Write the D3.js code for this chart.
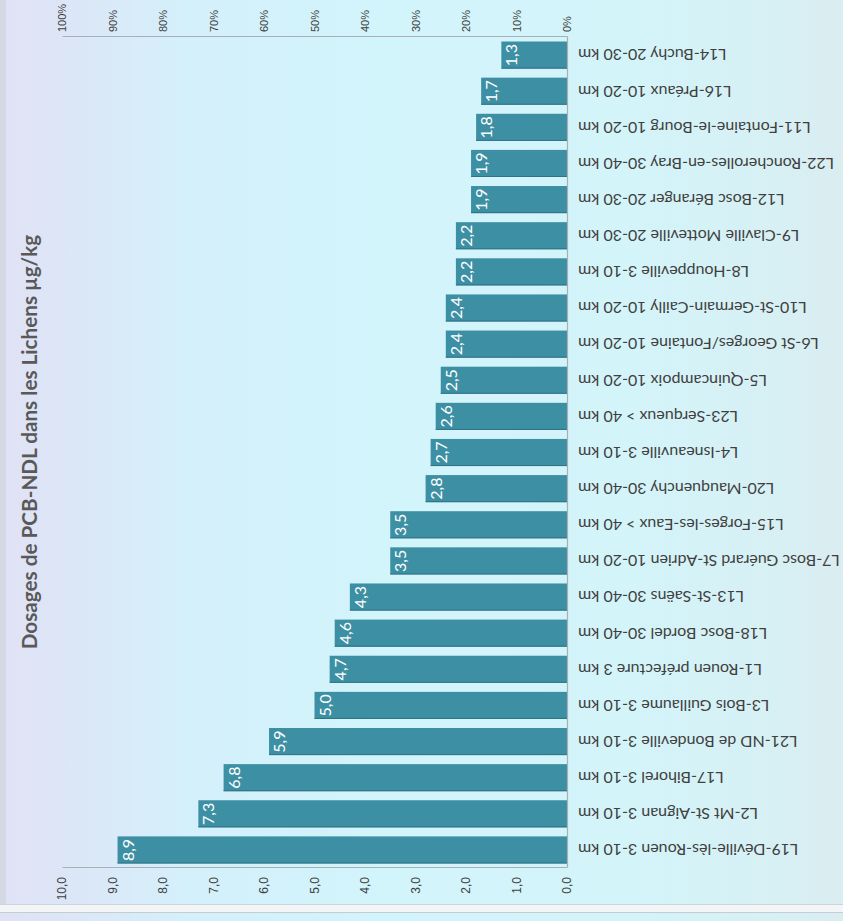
<!DOCTYPE html>
<html>
<head>
<meta charset="utf-8">
<script src="https://cdn.jsdelivr.net/npm/d3@7"></script>
<style>
  html, body { margin: 0; padding: 0; background: #ffffff; }
  svg { display: block; }
</style>
</head>
<body>
<svg id="chart" width="843" height="921"></svg>
<script>
// Sites sampled, ordered by decreasing concentration
const categories = [
  "L19-Déville-lès-Rouen 3-10 km",
  "L2-Mt St-Aignan 3-10 km",
  "L17-Bihorel 3-10 km",
  "L21-ND de Bondeville 3-10 km",
  "L3-Bois Guillaume 3-10 km",
  "L1-Rouen préfecture 3 km",
  "L18-Bosc Bordel 30-40 km",
  "L13-St-Saëns 30-40 km",
  "L7-Bosc Guérard St-Adrien 10-20 km",
  "L15-Forges-les-Eaux > 40 km",
  "L20-Mauquenchy 30-40 km",
  "L4-Isneauville 3-10 km",
  "L23-Serqueux > 40 km",
  "L5-Quincampoix 10-20 km",
  "L6-St Georges/Fontaine 10-20 km",
  "L10-St-Germain-Cailly 10-20 km",
  "L8-Houppeville 3-10 km",
  "L9-Claville Motteville 20-30 km",
  "L12-Bosc Béranger 20-30 km",
  "L22-Roncherolles-en-Bray 30-40 km",
  "L11-Fontaine-le-Bourg 10-20 km",
  "L16-Préaux 10-20 km",
  "L14-Buchy 20-30 km"
];
// PCB-NDL in µg/kg
const values = [8.9, 7.3, 6.8, 5.9, 5.0, 4.7, 4.6, 4.3, 3.5, 3.5, 2.8, 2.7, 2.6,
                2.5, 2.4, 2.4, 2.2, 2.2, 1.9, 1.9, 1.8, 1.7, 1.3];
const valueTicks = [0, 1, 2, 3, 4, 5, 6, 7, 8, 9, 10];
const percentTicks = [0, 0.1, 0.2, 0.3, 0.4, 0.5, 0.6, 0.7, 0.8, 0.9, 1];
const title = "Dosages de PCB-NDL dans les Lichens µg/kg";

const svg = d3.select("#chart");
const FW = 843, FH = 921;

// ---- panel background ----
const defs = svg.append("defs");
const grad = defs.append("linearGradient").attr("id", "bg")
  .attr("x1", 0).attr("y1", 0).attr("x2", 1).attr("y2", 0);
[[0, "#e0e2f5"], [0.06, "#dde5f6"], [0.14, "#d9eaf8"], [0.22, "#d4f0fb"],
 [0.45, "#d2f4fb"], [0.75, "#d3f4f9"], [0.92, "#d7f0f4"], [1, "#daedf1"]]
  .forEach(([o, c]) => grad.append("stop").attr("offset", o).attr("stop-color", c));

svg.append("rect").attr("x", 0).attr("y", 0).attr("width", FW).attr("height", FH)
  .attr("fill", "#f3f5f7");
svg.append("rect").attr("x", 0).attr("y", 0).attr("width", FW).attr("height", 905)
  .attr("fill", "url(#bg)");
svg.append("rect").attr("x", 0).attr("y", 0).attr("width", 6).attr("height", 905)
  .attr("fill", "#d5d9e4");
svg.append("line").attr("x1", 0).attr("x2", FW).attr("y1", 904.5).attr("y2", 904.5)
  .attr("stroke", "#c9d6de");
svg.append("rect").attr("x", 0).attr("y", 912).attr("width", FW).attr("height", 9)
  .attr("fill", "url(#bg)");
svg.append("line").attr("x1", 0).attr("x2", FW).attr("y1", 912.5).attr("y2", 912.5)
  .attr("stroke", "#c4ccd4");

// ---- chart drawn as a column chart, turned a quarter turn ----
const g = svg.append("g").attr("transform", `translate(0,${FH}) rotate(-90)`);

const x = d3.scaleBand().domain(categories).range([53, 884])
  .paddingInner(0.25).paddingOuter(0.125);
const y = d3.scaleLinear().domain([0, 10]).range([567, 62]);
const yPct = d3.scaleLinear().domain([0, 1]).range([567, 62]);

const fmt = d => d.toFixed(1).replace(".", ",");
const font = "Lato, 'Open Sans', sans-serif";

// bars
g.selectAll("rect.bar").data(values).join("rect")
  .attr("class", "bar")
  .attr("x", (d, i) => x(categories[i]))
  .attr("width", x.bandwidth())
  .attr("y", d => y(d))
  .attr("height", d => y(0) - y(d))
  .attr("fill", "#3d8fa4");
g.selectAll("line.edge").data(values).join("line")
  .attr("class", "edge")
  .attr("x1", (d, i) => x(categories[i]) + 0.5)
  .attr("x2", (d, i) => x(categories[i]) + 0.5)
  .attr("y1", d => y(d)).attr("y2", y(0))
  .attr("stroke", "#2f7386").attr("stroke-width", 1);

// value labels inside the bar end
g.selectAll("text.val").data(values).join("text")
  .attr("class", "val")
  .attr("x", (d, i) => x(categories[i]) + x.bandwidth() / 2)
  .attr("y", d => y(d) + 16)
  .attr("text-anchor", "middle")
  .attr("font-family", font)
  .attr("font-size", 16)
  .attr("fill", "#ffffff")
  .text(d => fmt(d));

// value axis
const axV = g.append("g").attr("transform", "translate(53,0)")
  .call(d3.axisLeft(y).tickValues(valueTicks).tickSize(0).tickPadding(9).tickFormat(fmt));
// percentage axis
const axP = g.append("g").attr("transform", "translate(884,0)")
  .call(d3.axisRight(yPct).tickValues(percentTicks).tickSize(0).tickPadding(5)
    .tickFormat(d3.format(".0%")));
// category axis
const axC = g.append("g").attr("transform", "translate(0,567)")
  .call(d3.axisBottom(x).tickSize(0));

[axV, axP, axC].forEach(a => {
  a.select(".domain").attr("stroke", "#a9b0b4").attr("stroke-width", 1.2);
  a.selectAll("text").attr("fill", "#404040").attr("font-family", "'Liberation Sans', Arial, sans-serif");
});
axV.selectAll("text").attr("font-size", 12);
axP.selectAll("text").attr("font-size", 11);
axC.selectAll("text")
  .attr("font-family", font)
  .attr("font-size", 16)
  .attr("transform", "rotate(-90)")
  .attr("text-anchor", "end")
  .attr("x", -11)
  .attr("y", 0)
  .attr("dy", "0.35em");

// title
g.append("text")
  .attr("x", 479).attr("y", 37)
  .attr("text-anchor", "middle")
  .attr("font-family", font)
  .attr("font-weight", "bold")
  .attr("font-size", 20.7)
  .attr("fill", "#595959")
  .text(title);
</script>
</body>
</html>
